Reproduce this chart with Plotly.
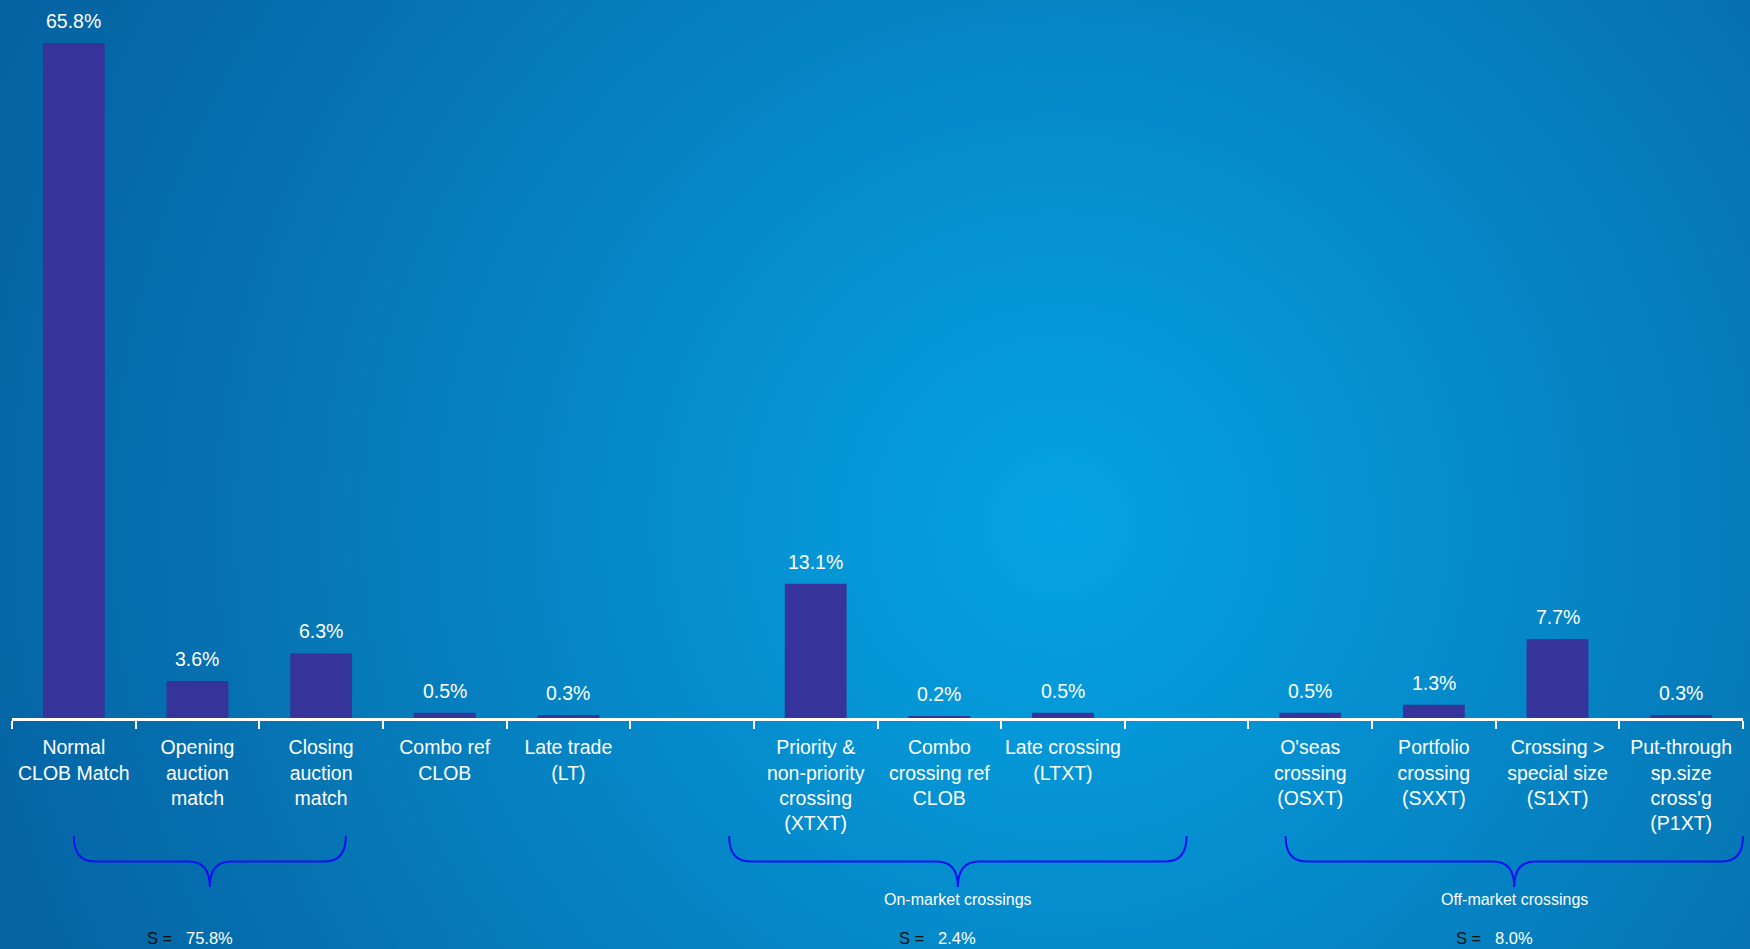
import base64
import plotly.graph_objects as go

# ---------------- data ----------------
categories = [
    "Normal<br>CLOB Match", "Opening<br>auction<br>match", "Closing<br>auction<br>match",
    "Combo ref<br>CLOB", "Late trade<br>(LT)", "",
    "Priority &<br>non-priority<br>crossing<br>(XTXT)", "Combo<br>crossing ref<br>CLOB",
    "Late crossing<br>(LTXT)", "",
    "O'seas<br>crossing<br>(OSXT)", "Portfolio<br>crossing<br>(SXXT)",
    "Crossing ><br>special size<br>(S1XT)", "Put-through<br>sp.size<br>cross'g<br>(P1XT)",
]
bar_slots = [0, 1, 2, 3, 4, 6, 7, 8, 10, 11, 12, 13]
bar_values = [65.8, 3.6, 6.3, 0.5, 0.3, 13.1, 0.2, 0.5, 0.5, 1.3, 7.7, 0.3]

group_names = ["", "On-market crossings", "Off-market crossings"]
group_sums = ["75.8%", "2.4%", "8.0%"]
brace_x0 = [0.0, 5.3, 9.8]
brace_x1 = [2.2, 9.0, 13.5]

# ---------------- layout geometry ----------------
W, H = 1750, 949
ML, MR, MT, MB = 12, 7, 0, 231
PW, PH = W - ML - MR, H - MT - MB
XMIN, XMAX = -0.5, len(categories) - 0.5
YMAX = 70

FONT = "Liberation Sans, Arial, sans-serif"
BAR = "#36349a"
BRACE = "#1010f0"

def px(x):  # data x -> paper x
    return (x - XMIN) / (XMAX - XMIN)

def py(pix):  # pixel from top -> paper y
    return (PH + MT - pix) / PH

# ---------------- background (radial gradient) ----------------
svg = f'''<svg xmlns="http://www.w3.org/2000/svg" width="{W}" height="{H}" viewBox="0 0 {W} {H}">
<defs><radialGradient id="g" gradientUnits="userSpaceOnUse" cx="1060" cy="525" r="1200">
<stop offset="0" stop-color="#04a3e3"/>
<stop offset="0.25" stop-color="#0592d2"/>
<stop offset="0.5" stop-color="#0580c0"/>
<stop offset="0.62" stop-color="#0778b6"/>
<stop offset="0.72" stop-color="#0670b0"/>
<stop offset="0.88" stop-color="#0567a7"/>
<stop offset="1" stop-color="#0561a1"/>
</radialGradient></defs>
<rect x="0" y="0" width="{W}" height="{H}" fill="url(#g)"/></svg>'''
bg_src = "data:image/svg+xml;base64," + base64.b64encode(svg.encode()).decode()

fig = go.Figure()
fig.add_trace(go.Bar(
    x=bar_slots, y=bar_values, width=0.5,
    marker=dict(color=BAR, line=dict(width=0)),
    hoverinfo="skip", showlegend=False,
))

annotations = []
for xs, v in zip(bar_slots, bar_values):
    annotations.append(dict(
        x=xs, y=v, xref="x", yref="y", text=f"{v:.1f}%", showarrow=False,
        yshift=22, yanchor="middle", font=dict(family=FONT, size=19.5, color="white"),
    ))

shapes = []
top, mid, bot = 836, 861.5, 887
rx = 21 / PW
for x0d, x1d, name, s in zip(brace_x0, brace_x1, group_names, group_sums):
    x0, x1 = px(x0d), px(x1d)
    tip = (x0 + x1) / 2
    yt, ym, yb = py(top), py(mid), py(bot)
    path = (f"M {x0},{yt} Q {x0},{ym} {x0+rx},{ym} L {tip-rx},{ym} "
            f"Q {tip},{ym} {tip},{yb} Q {tip},{ym} {tip+rx},{ym} "
            f"L {x1-rx},{ym} Q {x1},{ym} {x1},{yt}")
    shapes.append(dict(type="path", xref="paper", yref="paper", path=path,
                       line=dict(color=BRACE, width=2)))
    if name:
        annotations.append(dict(
            x=tip, y=py(899), xref="paper", yref="paper", text=name, showarrow=False,
            xanchor="center", yanchor="middle",
            font=dict(family=FONT, size=16, color="white"),
        ))
    annotations.append(dict(
        x=tip, y=py(938), xref="paper", yref="paper", xshift=-20,
        text='<span style="color:#101010">S =</span>\u00a0\u00a0\u00a0' + s,
        showarrow=False, xanchor="center", yanchor="middle",
        font=dict(family=FONT, size=16.5, color="white"),
    ))

fig.update_layout(
    width=W, height=H,
    margin=dict(l=ML, r=MR, t=MT, b=MB, pad=0),
    paper_bgcolor="#0580c0", plot_bgcolor="rgba(0,0,0,0)",
    bargap=0.5,
    images=[dict(source=bg_src, xref="paper", yref="paper",
                 x=-ML / PW, y=1 + MT / PH, sizex=W / PW, sizey=H / PH,
                 xanchor="left", yanchor="top", sizing="stretch", layer="below")],
    xaxis=dict(
        range=[XMIN, XMAX], tickvals=list(range(len(categories))), ticktext=categories,
        ticks="", showgrid=False, zeroline=False,
        showline=True, linecolor="white", linewidth=2.5,
        tickfont=dict(family=FONT, size=19.5, color="white"),
        ticklabelstandoff=10,
        minor=dict(tickvals=[i - 0.5 for i in range(len(categories) + 1)],
                   ticks="outside", ticklen=8, tickwidth=2, tickcolor="white",
                   showgrid=False),
        fixedrange=True,
    ),
    yaxis=dict(range=[0, YMAX], visible=False, fixedrange=True),
    annotations=annotations, shapes=shapes,
)

fig.write_html("out.html", config={"displayModeBar": False},
               post_script="document.body.style.margin='0';document.body.style.overflow='hidden';")
